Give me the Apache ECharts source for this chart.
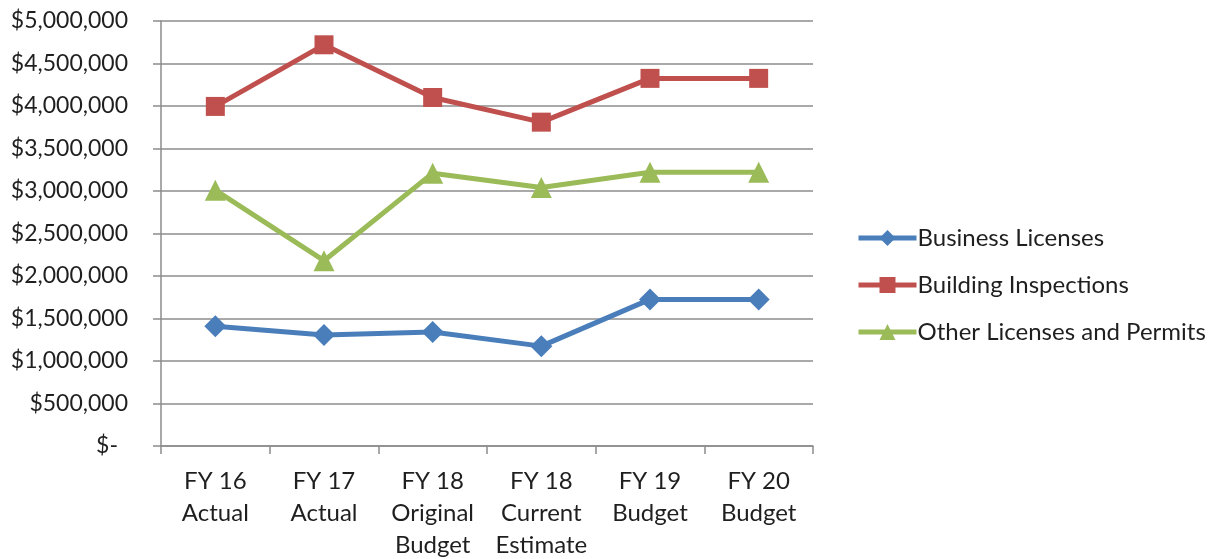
<!DOCTYPE html>
<html>
<head>
<meta charset="utf-8">
<script src="https://cdn.jsdelivr.net/npm/echarts@6/dist/echarts.min.js"></script>
<style>
  html, body { margin: 0; padding: 0; background: #fff; }
  #chart { width: 1216px; height: 559px; }
</style>
</head>
<body>
<div id="chart"></div>
<script>
const categories = [
  'FY 16\nActual',
  'FY 17\nActual',
  'FY 18\nOriginal\nBudget',
  'FY 18\nCurrent\nEstimate',
  'FY 19\nBudget',
  'FY 20\nBudget'
]
const businessLicenses = [1410000, 1305000, 1340000, 1175000, 1725000, 1725000]
const buildingInspections = [3995000, 4720000, 4100000, 3810000, 4325000, 4325000]
const otherLicenses = [3010000, 2180000, 3210000, 3040000, 3220000, 3220000]

const font = 'Lato, "Open Sans", sans-serif'
const textColor = '#1f1f1f'
const gridColor = '#8c8c8c'

const chart = echarts.init(document.getElementById('chart'))

const fmt = v => v === 0 ? '{z|$-}' : '$' + v.toLocaleString('en-US')

const makeSeries = (name, data, color, symbol, size) => ({
  name,
  type: 'line',
  data,
  symbol,
  symbolSize: size,
  lineStyle: { color, width: 5 },
  itemStyle: { color },
  animation: false
})

chart.setOption({
  animation: false,
  grid: { left: 161, right: 403, top: 21, bottom: 113, outerBoundsMode: 'none' },
  legend: {
    orient: 'vertical',
    left: 851,
    top: 221,
    itemWidth: 58,
    itemHeight: 20,
    itemGap: 23,
    lineStyle: { width: 5 },
    textStyle: { fontFamily: font, fontSize: 24, color: textColor, padding: [0, 0, 0, -4] },
    data: ['Business Licenses', 'Building Inspections', 'Other Licenses and Permits']
  },
  xAxis: {
    type: 'category',
    data: categories,
    axisLine: { lineStyle: { color: gridColor, width: 1.5 } },
    axisTick: { show: true, length: 8, lineStyle: { color: gridColor, width: 1.5 } },
    axisLabel: {
      fontFamily: font, fontSize: 24, color: textColor,
      lineHeight: 32, margin: 19, interval: 0
    }
  },
  yAxis: {
    type: 'value',
    min: 0,
    max: 5000000,
    interval: 500000,
    axisLine: { show: true, lineStyle: { color: gridColor, width: 1.5 } },
    axisTick: { show: true, length: 8, lineStyle: { color: gridColor, width: 1.5 } },
    splitLine: { lineStyle: { color: gridColor, width: 1.5 } },
    axisLabel: {
      fontFamily: font, fontSize: 23, color: textColor, margin: 33,
      formatter: fmt,
      rich: { z: { fontFamily: font, fontSize: 23, color: textColor, padding: [0, 10, 0, 0] } }
    }
  },
  series: [
    makeSeries('Business Licenses', businessLicenses, '#4a7ebb', 'diamond', 22),
    makeSeries('Building Inspections', buildingInspections, '#c0504d', 'rect', 19),
    makeSeries('Other Licenses and Permits', otherLicenses, '#9bbb59', 'triangle', 21)
  ]
})
</script>
</body>
</html>
